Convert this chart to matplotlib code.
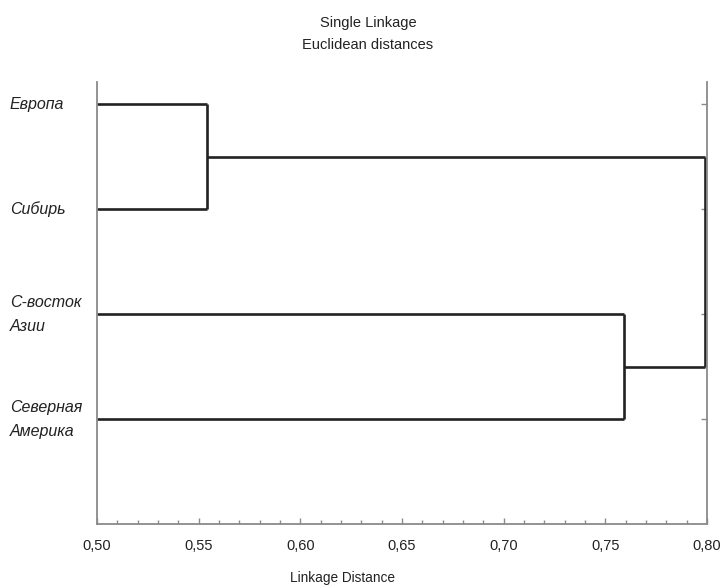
import matplotlib
matplotlib.use("Agg")
import matplotlib.pyplot as plt
from matplotlib.ticker import MultipleLocator, FuncFormatter

plt.rcParams['font.family'] = ['Liberation Sans', 'DejaVu Sans']

# Data
leaf_labels = ['Европа', 'Сибирь', 'С-восток\nАзии', 'Северная\nАмерика']
# merges: (cluster a, cluster b, linkage distance); new clusters numbered from len(leaves)
merge_a = [0, 2, 4]
merge_b = [1, 3, 5]
merge_dist = [0.554, 0.759, 0.799]
x_ticks = [0.50, 0.55, 0.60, 0.65, 0.70, 0.75, 0.80]

x_min, x_max = 0.50, 0.80

fig = plt.figure(figsize=(7.23, 5.88), dpi=100)
ax = fig.add_axes([97/723, 1-524/588, (707-97)/723, (524-82)/588])

line_kw = dict(color='#222222', lw=1.9, solid_capstyle='butt', clip_on=False)
pos = {i: (x_min, float(i)) for i in range(len(leaf_labels))}
for k, (a, b, d) in enumerate(zip(merge_a, merge_b, merge_dist)):
    xa, ya = pos[a]
    xb, yb = pos[b]
    ax.plot([xa, d], [ya, ya], **line_kw)
    ax.plot([xb, d], [yb, yb], **line_kw)
    ax.plot([d, d], [ya, yb], **line_kw)
    pos[len(leaf_labels) + k] = (d, (ya + yb) / 2)

ax.set_xlim(x_min, x_max)
ax.set_ylim(len(leaf_labels) - 1 + 1.0, -0.21)

ax.set_xticks(x_ticks)
ax.xaxis.set_minor_locator(MultipleLocator(0.01))
ax.xaxis.set_major_formatter(FuncFormatter(lambda v, p: f"{v:.2f}".replace('.', ',')))
ax.set_yticks(range(len(leaf_labels)))
ax.set_yticklabels(leaf_labels, fontstyle='italic', fontsize=11.5, ha='left', va='center',
                   ma='left', color='#222222', linespacing=1.75)

spine_col = '#8a8a8a'
for s in ['left', 'right', 'bottom']:
    ax.spines[s].set_color(spine_col)
    ax.spines[s].set_linewidth(1.3)
ax.spines['top'].set_visible(False)

ax.tick_params(axis='x', which='major', direction='in', length=4, width=1, color=spine_col,
               pad=11, labelsize=10.5, labelcolor='#222222')
ax.tick_params(axis='x', which='minor', direction='in', length=3, width=1, color=spine_col)
ax.tick_params(axis='y', which='major', left=False, right=True, direction='in', length=4,
               width=1, color=spine_col, labelleft=True, pad=87*72/100)

fig.text(368/723, 1-23/588, 'Single Linkage', ha='center', va='center', fontsize=10.5, color='#222222')
fig.text(368/723, 1-45/588, 'Euclidean distances', ha='center', va='center', fontsize=10.5, color='#222222')
fig.text(342/723, 1-578/588, 'Linkage Distance', ha='center', va='center', fontsize=9.8, color='#222222')

fig.savefig('out.png', dpi=100, facecolor='white')
